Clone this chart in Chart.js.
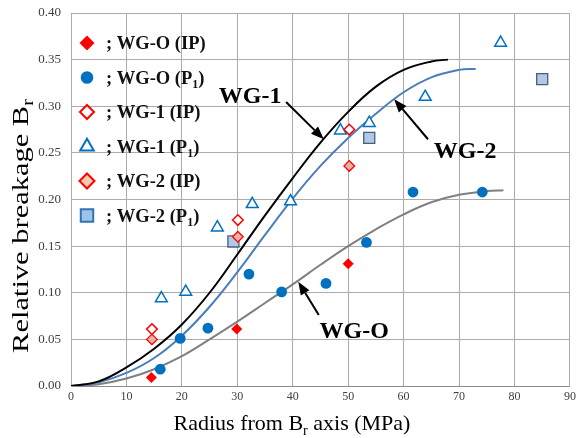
<!DOCTYPE html>
<html><head><meta charset="utf-8">
<script src="https://cdn.jsdelivr.net/npm/chart.js@4/dist/chart.umd.min.js"></script>
<style>html,body{margin:0;padding:0;background:#fff}#wrap{width:579px;height:438px;position:relative}</style>
</head><body><div id="wrap"><canvas id="c" width="579" height="438"></canvas></div>
<script>
// ---- Data ----
const xTicks = [0,10,20,30,40,50,60,70,80,90];
const yTicks = [0,0.05,0.10,0.15,0.20,0.25,0.30,0.35,0.40];

const wgoIpX = [14.5, 29.9, 50.0];
const wgoIpY = [0.009, 0.061, 0.131];
const wgoP1X = [16.1, 19.7, 24.7, 32.1, 38.0, 46.0, 53.3, 61.7, 74.2];
const wgoP1Y = [0.018, 0.051, 0.062, 0.120, 0.101, 0.110, 0.154, 0.208, 0.208];
const wg1IpX = [14.6, 30.1, 50.2];
const wg1IpY = [0.061, 0.178, 0.275];
const wg1P1X = [16.3, 20.7, 26.4, 32.7, 39.6, 48.6, 53.8, 63.9, 77.5];
const wg1P1Y = [0.094, 0.101, 0.170, 0.195, 0.198, 0.274, 0.282, 0.310, 0.368];
const wg2IpX = [14.6, 30.1, 50.2];
const wg2IpY = [0.050, 0.160, 0.236];
const wg2P1X = [29.3, 53.8, 85.0];
const wg2P1Y = [0.155, 0.266, 0.329];

// fitted curves
const curve1X = [0, 5, 10, 15, 20, 25, 30, 35, 40, 45, 50, 55, 60, 65, 68];
const curve1Y = [0, 0.005, 0.020, 0.040, 0.066, 0.100, 0.141, 0.183, 0.223, 0.261, 0.294, 0.321, 0.339, 0.348, 0.350];
const curve2X = [0, 5, 10, 15, 20, 25, 30, 35, 40, 45, 50, 55, 60, 65, 70, 73];
const curve2Y = [0, 0.004, 0.014, 0.030, 0.054, 0.085, 0.122, 0.162, 0.201, 0.236, 0.266, 0.292, 0.315, 0.331, 0.339, 0.340];
const curveOX = [0, 5, 10, 15, 20, 25, 30, 35, 40, 45, 50, 55, 60, 65, 70, 75, 78];
const curveOY = [0, 0.002, 0.008, 0.018, 0.032, 0.050, 0.069, 0.089, 0.109, 0.130, 0.150, 0.168, 0.184, 0.197, 0.205, 0.209, 0.210];

const seriesNames = ['; WG-O (IP)', '; WG-O (P1)', '; WG-1 (IP)', '; WG-1 (P1)', '; WG-2 (IP)', '; WG-2 (P1)'];
const curveNames = ['WG-1', 'WG-2', 'WG-O'];

// annotation placement (data units)
const labelPos = { 'WG-1': [32.3, 0.3035], 'WG-2': [71.1, 0.245], 'WG-O': [51.1, 0.0512] };
const arrowPos = {
  'WG-1': [[38.8, 0.3046], [45.6, 0.2646]],
  'WG-2': [[64.4, 0.2646], [58.3, 0.3075]],
  'WG-O': [[44.7, 0.0761], [41.0, 0.1118]]
};

const pts = (xs, ys) => xs.map((x, i) => ({x, y: ys[i]}));
const SERIF = '"Liberation Serif", "Times New Roman", serif';

const markerStyles = [
  {pointStyle:'rectRot', radius:5.5, bg:'#ff0000', border:'#ff0000', bw:0, legendR:7.5},
  {pointStyle:'circle', radius:5.4, bg:'#0070c0', border:'#0070c0', bw:0, legendR:6.3},
  {pointStyle:'rectRot', radius:5.3, bg:'#ffffff', border:'#ff0000', bw:1.5, legendR:7},
  {pointStyle:'triangle', radius:6.8, bg:'#ffffff', border:'#0070c0', bw:1.5, legendR:7.8},
  {pointStyle:'rectRot', radius:5.3, bg:'#e9b2a6', border:'#ff0000', bw:1.3, legendR:7.5},
  {pointStyle:'rect', radius:7.8, bg:'#b4c7e7', border:'#41627e', bw:1.3, legendR:8.8}
];
const legendFill = ['#ff0000','#0070c0','#ffffff','#ffffff','#f8cbad','#9dc3e6'];
const legendBorder = ['#ff0000','#0070c0','#ff0000','#0070c0','#ff0000','#2e75b6'];

const seriesData = [pts(wgoIpX,wgoIpY), pts(wgoP1X,wgoP1Y), pts(wg1IpX,wg1IpY), pts(wg1P1X,wg1P1Y), pts(wg2IpX,wg2IpY), pts(wg2P1X,wg2P1Y)];

const datasets = [];
[[curve1X,curve1Y,'#000000'],[curve2X,curve2Y,'#4a7ebb'],[curveOX,curveOY,'#808080']].forEach((c, i) => {
  datasets.push({label: curveNames[i], data: pts(c[0], c[1]), showLine: true, borderColor: c[2], borderWidth: 2,
    pointRadius: 0, pointHoverRadius: 0, tension: 0.4, fill: false, order: 1});
});
seriesData.forEach((d, i) => {
  const m = markerStyles[i];
  datasets.push({label: seriesNames[i], data: d, showLine: false, pointStyle: m.pointStyle, pointRadius: m.radius,
    pointBackgroundColor: m.bg, pointBorderColor: m.border, pointBorderWidth: m.bw, order: 0});
});

function drawRich(ctx, parts, x, y, size, weight, align) {
  const fMain = `${weight} ${size}px ${SERIF}`;
  const fSub = `${weight} ${Math.round(size*0.65)}px ${SERIF}`;
  let total = 0;
  parts.forEach(p => { ctx.font = p.sub ? fSub : fMain; total += ctx.measureText(p.t).width; });
  let cx = align === 'center' ? x - total/2 : x;
  ctx.textAlign = 'left';
  parts.forEach(p => {
    ctx.font = p.sub ? fSub : fMain;
    ctx.fillText(p.t, cx, p.sub ? y + size*0.22 : y);
    cx += ctx.measureText(p.t).width;
  });
}

const overlay = {
  id: 'overlay',
  afterDraw(chart) {
    const ctx = chart.ctx, xs = chart.scales.x, ys = chart.scales.y, ca = chart.chartArea;
    ctx.save();
    // legend
    ctx.textBaseline = 'alphabetic';
    seriesNames.forEach((name, i) => {
      const cy = ca.top + 30 + i * 34.5;
      const mx = ca.left + 16;
      const m = markerStyles[i];
      ctx.fillStyle = legendFill[i];
      ctx.strokeStyle = legendBorder[i];
      ctx.lineWidth = m.bw > 0 ? 2 : 0;
      Chart.helpers.drawPoint(ctx, {pointStyle: m.pointStyle, radius: m.legendR, rotation: 0, borderWidth: m.bw > 0 ? 2 : 0}, mx, cy);
      ctx.fillStyle = '#111';
      const tx = ca.left + 35, ty = cy + 6;
      if (name.endsWith('(P1)')) {
        drawRich(ctx, [{t: name.slice(0, -2)}, {t: '1', sub: true}, {t: ')'}], tx, ty, 18.5, 'bold', 'left');
      } else {
        drawRich(ctx, [{t: name}], tx, ty, 18.5, 'bold', 'left');
      }
    });
    // curve labels + arrows
    ctx.fillStyle = '#000';
    ctx.strokeStyle = '#000';
    curveNames.forEach(n => {
      const p = labelPos[n];
      drawRich(ctx, [{t: n}], xs.getPixelForValue(p[0]), ys.getPixelForValue(p[1]), 24, 'bold', 'center');
      const a = arrowPos[n];
      const x0 = xs.getPixelForValue(a[0][0]), y0 = ys.getPixelForValue(a[0][1]);
      const x1 = xs.getPixelForValue(a[1][0]), y1 = ys.getPixelForValue(a[1][1]);
      const ang = Math.atan2(y1 - y0, x1 - x0), hl = 13, hw = 5;
      const bx = x1 - hl*Math.cos(ang), by = y1 - hl*Math.sin(ang);
      ctx.lineWidth = 2;
      ctx.beginPath(); ctx.moveTo(x0, y0); ctx.lineTo(bx, by); ctx.stroke();
      ctx.beginPath(); ctx.moveTo(x1, y1);
      ctx.lineTo(bx + hw*Math.sin(ang), by - hw*Math.cos(ang));
      ctx.lineTo(bx - hw*Math.sin(ang), by + hw*Math.cos(ang));
      ctx.closePath(); ctx.fill();
    });
    // axis titles
    ctx.fillStyle = '#000';
    drawRich(ctx, [{t: 'Radius from B'}, {t: 'r', sub: true}, {t: ' axis (MPa)'}], 292, 430, 22, 'normal', 'center');
    ctx.save();
    ctx.translate(28, 226);
    ctx.rotate(-Math.PI/2);
    ctx.scale(1.27, 1);
    drawRich(ctx, [{t: 'Relative breakage B'}, {t: 'r', sub: true}], 0, 0, 24, 'normal', 'center');
    ctx.restore();
    ctx.restore();
  }
};

new Chart(document.getElementById('c'), {
  type: 'scatter',
  data: { datasets },
  options: {
    responsive: false, animation: false, devicePixelRatio: 1,
    layout: { padding: { top: 13, right: 5, left: 0, bottom: 0 } },
    plugins: { legend: { display: false }, tooltip: { enabled: false } },
    scales: {
      x: {
        type: 'linear', min: 0, max: 90,
        afterBuildTicks: s => { s.ticks = xTicks.map(v => ({value: v})); },
        ticks: { font: { family: SERIF, size: 12 }, color: '#404040', padding: 4, maxRotation: 0 },
        grid: { color: '#ababab', lineWidth: 1, drawTicks: false },
        border: { color: '#8c8c8c', width: 1 },
        afterFit: s => { s.height = 52; s.paddingLeft = 0; s.paddingRight = 0; }
      },
      y: {
        type: 'linear', min: 0, max: 0.4,
        afterBuildTicks: s => { s.ticks = yTicks.map(v => ({value: v})); },
        ticks: { font: { family: SERIF, size: 13 }, color: '#404040', padding: 10, callback: v => Number(v).toFixed(2) },
        grid: { color: '#ababab', lineWidth: 1, drawTicks: false },
        border: { color: '#ababab', width: 1 },
        afterFit: s => { s.width = 71; s.paddingTop = 0; s.paddingBottom = 0; }
      }
    }
  },
  plugins: [overlay]
});
</script>
</body></html>
